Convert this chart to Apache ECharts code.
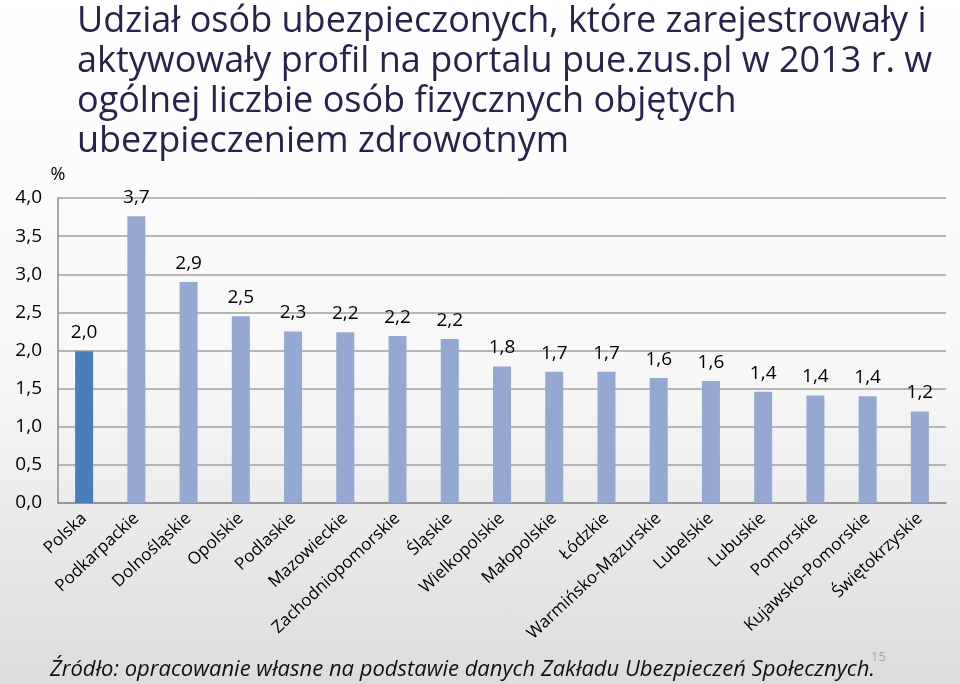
<!DOCTYPE html>
<html>
<head>
<meta charset="utf-8">
<script src="https://cdn.jsdelivr.net/npm/echarts@6/dist/echarts.min.js"></script>
<style>
  html, body {
    margin: 0;
    padding: 0;
    width: 960px;
    height: 684px;
    background: linear-gradient(to bottom, #ffffff 0%, #f7f7f7 55%, #dcdcdc 100%);
  }
  #chart {
    width: 960px;
    height: 684px;
  }
</style>
</head>
<body>
<div id="chart"></div>
<script>
// województwa
const categories = [
  'Polska', 'Podkarpackie', 'Dolnośląskie', 'Opolskie', 'Podlaskie',
  'Mazowieckie', 'Zachodniopomorskie', 'Śląskie', 'Wielkopolskie',
  'Małopolskie', 'Łódzkie', 'Warmińsko-Mazurskie', 'Lubelskie',
  'Lubuskie', 'Pomorskie', 'Kujawsko-Pomorskie', 'Świętokrzyskie'
]
// udział w %
const values = [1.99, 3.76, 2.90, 2.45, 2.25, 2.24, 2.19, 2.15, 1.79,
  1.72, 1.72, 1.64, 1.60, 1.46, 1.41, 1.40, 1.20]
// etykiety danych (jak na wykresie)
const labels = ['2,0', '3,7', '2,9', '2,5', '2,3', '2,2', '2,2', '2,2', '1,8',
  '1,7', '1,7', '1,6', '1,6', '1,4', '1,4', '1,4', '1,2']

const titleText = 'Udział osób ubezpieczonych, które zarejestrowały i\n' +
  'aktywowały profil na portalu pue.zus.pl w 2013 r. w\n' +
  'ogólnej liczbie osób fizycznych objętych\n' +
  'ubezpieczeniem zdrowotnym'
const sourceText = 'Źródło: opracowanie własne na podstawie danych Zakładu Ubezpieczeń Społecznych.'

const font = '"Open Sans", "Noto Sans", sans-serif'

let mycharts = echarts.init(document.getElementById('chart'))

mycharts.setOption({
  backgroundColor: 'transparent',
  textStyle: { fontFamily: font },
  title: {
    text: titleText,
    left: 72,
    top: -3,
    textStyle: {
      color: '#24244f',
      fontSize: 36,
      fontWeight: 'normal',
      lineHeight: 40,
      fontFamily: font
    }
  },
  grid: {
    left: 58,
    right: 14,
    top: 198,
    bottom: 181
  },
  xAxis: {
    type: 'category',
    data: categories,
    axisLine: { lineStyle: { color: '#8c8c8c', width: 1.5 } },
    axisTick: { show: false },
    axisLabel: {
      interval: 0,
      rotate: 43,
      margin: 13,
      color: '#000',
      fontSize: 17,
      fontFamily: font
    }
  },
  yAxis: {
    type: 'value',
    min: 0,
    max: 4,
    interval: 0.5,
    name: '%',
    nameLocation: 'end',
    nameGap: 14,
    nameTextStyle: { color: '#000', fontSize: 18, align: 'center', fontFamily: font },
    axisLine: { show: true, lineStyle: { color: '#8c8c8c', width: 1.5 } },
    axisTick: { show: false },
    splitLine: { lineStyle: { color: '#a0a0a0', width: 1.5 } },
    axisLabel: {
      color: '#000',
      fontSize: 19,
      margin: 16,
      fontFamily: font,
      formatter: (v) => v.toFixed(1).replace('.', ',')
    }
  },
  series: [
    {
      type: 'bar',
      data: values,
      barWidth: 18,
      itemStyle: {
        color: (p) => (p.dataIndex === 0 ? '#4a7ebb' : '#94a8d2')
      },
      label: {
        show: true,
        position: 'top',
        distance: 9,
        color: '#000',
        fontSize: 19,
        fontFamily: font,
        formatter: (p) => labels[p.dataIndex]
      }
    }
  ],
  graphic: [
    {
      type: 'text',
      left: 50,
      top: 659,
      style: {
        text: sourceText,
        fill: '#111',
        font: 'italic 22px ' + font
      }
    },
    {
      type: 'text',
      left: 871,
      top: 651,
      style: {
        text: '15',
        fill: '#a8a8a8',
        font: '13px ' + font
      }
    }
  ]
})
</script>
</body>
</html>
